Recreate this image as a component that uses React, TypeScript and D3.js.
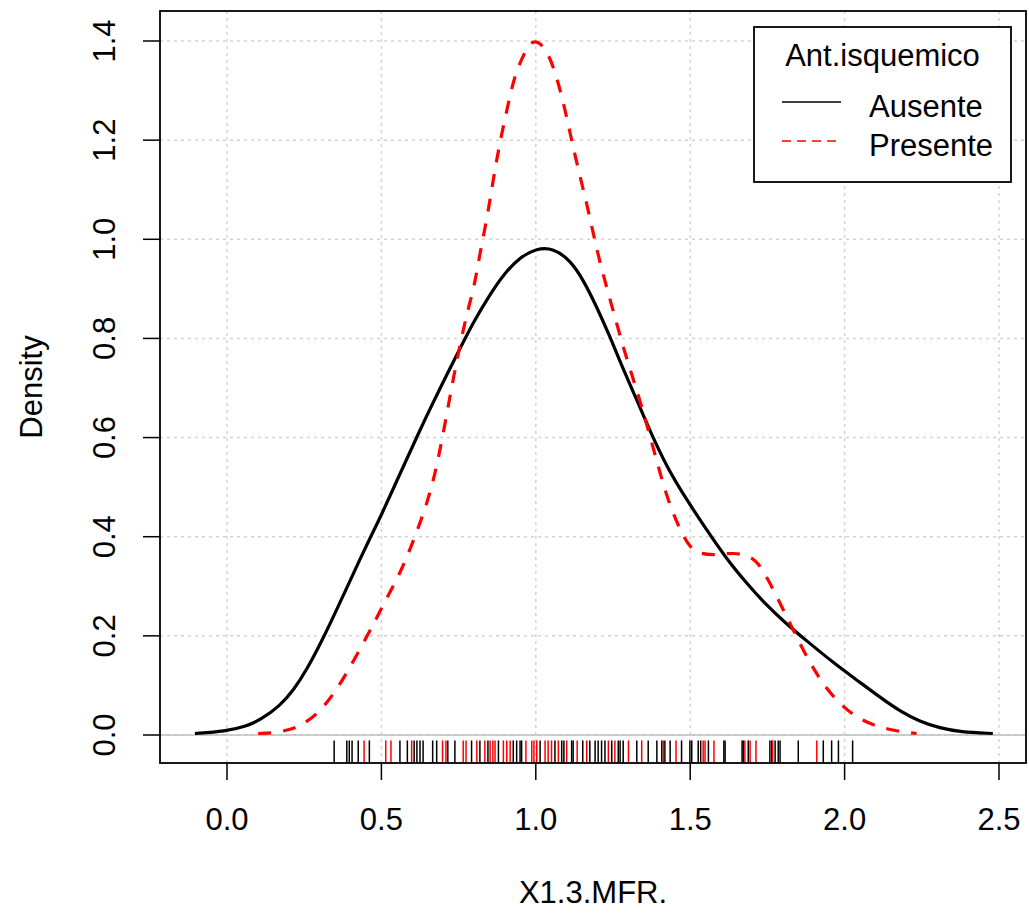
import React from 'react';
import * as d3 from 'd3';

// density curve for Ausente (black, solid)
const ausenteX = [-0.104, -0.006, 0.064, 0.107, 0.172, 0.215, 0.258, 0.312, 0.344, 0.388, 0.431, 0.469, 0.495, 0.55, 0.603, 0.636, 0.69, 0.755, 0.798, 0.852, 0.895, 0.949, 1.003, 1.057, 1.111, 1.154, 1.197, 1.24, 1.283, 1.327, 1.37, 1.424, 1.489, 1.553, 1.618, 1.683, 1.748, 1.812, 1.877, 1.963, 2.05, 2.115, 2.179, 2.244, 2.309, 2.374, 2.48];
const ausenteY = [0.003, 0.007, 0.018, 0.03, 0.059, 0.09, 0.131, 0.196, 0.238, 0.297, 0.355, 0.405, 0.437, 0.513, 0.585, 0.63, 0.7, 0.78, 0.833, 0.889, 0.929, 0.964, 0.982, 0.982, 0.958, 0.918, 0.864, 0.804, 0.738, 0.676, 0.613, 0.541, 0.474, 0.414, 0.355, 0.306, 0.261, 0.224, 0.19, 0.146, 0.106, 0.076, 0.048, 0.027, 0.014, 0.006, 0.003];

// density curve for Presente (red, dashed)
const presenteX = [0.101, 0.155, 0.204, 0.236, 0.29, 0.344, 0.388, 0.436, 0.479, 0.517, 0.56, 0.593, 0.625, 0.658, 0.684, 0.711, 0.733, 0.755, 0.776, 0.803, 0.819, 0.841, 0.857, 0.873, 0.89, 0.911, 0.933, 0.97, 0.995, 1.035, 1.068, 1.095, 1.116, 1.138, 1.165, 1.186, 1.208, 1.235, 1.262, 1.289, 1.316, 1.343, 1.37, 1.397, 1.424, 1.462, 1.499, 1.532, 1.586, 1.64, 1.69, 1.72, 1.753, 1.791, 1.829, 1.866, 1.9, 1.94, 1.99, 2.044, 2.136, 2.233];
const presenteY = [0.003, 0.004, 0.011, 0.018, 0.04, 0.081, 0.125, 0.179, 0.229, 0.276, 0.326, 0.375, 0.427, 0.488, 0.555, 0.645, 0.72, 0.788, 0.848, 0.911, 0.972, 1.039, 1.1, 1.16, 1.214, 1.274, 1.335, 1.385, 1.405, 1.385, 1.328, 1.261, 1.2, 1.14, 1.072, 1.012, 0.952, 0.891, 0.83, 0.77, 0.717, 0.663, 0.602, 0.541, 0.481, 0.42, 0.377, 0.365, 0.363, 0.368, 0.362, 0.348, 0.313, 0.266, 0.218, 0.171, 0.133, 0.094, 0.06, 0.032, 0.01, 0.003];

// rug observations
const ausenteRug = [0.347, 0.388, 0.396, 0.405, 0.425, 0.461, 0.56, 0.584, 0.606, 0.615, 0.625, 0.635, 0.666, 0.679, 0.715, 0.738, 0.792, 0.819, 0.845, 0.879, 0.927, 0.938, 0.949, 0.954, 1.014, 1.062, 1.084, 1.091, 1.116, 1.121, 1.152, 1.175, 1.192, 1.202, 1.213, 1.224, 1.246, 1.267, 1.273, 1.283, 1.327, 1.364, 1.392, 1.408, 1.418, 1.435, 1.472, 1.499, 1.505, 1.526, 1.534, 1.559, 1.609, 1.613, 1.668, 1.672, 1.688, 1.758, 1.764, 1.775, 1.785, 1.791, 1.85, 1.931, 1.958, 1.98, 2.026];
const presenteRug = [0.444, 0.514, 0.531, 0.598, 0.698, 0.709, 0.765, 0.774, 0.809, 0.835, 0.852, 0.861, 0.868, 0.895, 0.906, 0.917, 0.968, 0.987, 0.994, 1.003, 1.03, 1.04, 1.051, 1.073, 1.1, 1.134, 1.165, 1.235, 1.256, 1.3, 1.343, 1.413, 1.454, 1.542, 1.548, 1.577, 1.677, 1.694, 1.713, 1.767, 1.91];

const xTicks = [0, 0.5, 1, 1.5, 2, 2.5];
const yTicks = [0, 0.2, 0.4, 0.6, 0.8, 1.0, 1.2, 1.4];
const legendTitle = 'Ant.isquemico';
const legendLabels = ['Ausente', 'Presente'];

const W = 1029;
const H = 920;
const box = { left: 160, top: 11, right: 1026, bottom: 763 };
const font = '"Liberation Sans", Arial, sans-serif';
const fs = 31;

export default function App() {
  const x = d3.scaleLinear().domain([0, 2.5]).range([227, 999]);
  const y = d3.scaleLinear().domain([0, 1.4]).range([735, 41]);

  const line = d3.line<[number, number]>()
    .x(d => x(d[0]))
    .y(d => y(d[1]))
    .curve(d3.curveBasis);

  const ausente = line(ausenteX.map((v, i) => [v, ausenteY[i]] as [number, number])) || '';
  const presente = line(presenteX.map((v, i) => [v, presenteY[i]] as [number, number])) || '';

  const rugTop = box.bottom - 0.03 * (box.bottom - box.top);

  return (
    <svg width={W} height={H} style={{ position: 'absolute', left: 0, top: 0, background: '#fff' }}
      fontFamily={font} fontSize={fs}>
      {/* grid */}
      <g stroke="#d3d3d3" strokeWidth={1.5} strokeDasharray="3,4">
        {xTicks.map(t => (
          <line key={'gx' + t} x1={x(t)} x2={x(t)} y1={box.top} y2={box.bottom} />
        ))}
        {yTicks.map(t => (
          <line key={'gy' + t} x1={box.left} x2={box.right} y1={y(t)} y2={y(t)} />
        ))}
      </g>
      {/* zero line */}
      <line x1={box.left} x2={box.right} y1={y(0)} y2={y(0)} stroke="#bebebe" strokeWidth={1.5} />

      <path d={ausente} fill="none" stroke="#000" strokeWidth={3.2} />
      <path d={presente} fill="none" stroke="#ff0000" strokeWidth={3.2} strokeDasharray="13,12" />

      {/* rugs */}
      <g strokeWidth={1.5}>
        {ausenteRug.map((v, i) => (
          <line key={'ra' + i} x1={x(v)} x2={x(v)} y1={box.bottom} y2={rugTop} stroke="#000" />
        ))}
        {presenteRug.map((v, i) => (
          <line key={'rp' + i} x1={x(v)} x2={x(v)} y1={box.bottom} y2={rugTop} stroke="#ff0000" />
        ))}
      </g>

      {/* box */}
      <rect x={box.left} y={box.top} width={box.right - box.left} height={box.bottom - box.top}
        fill="none" stroke="#000" strokeWidth={1.8} />

      {/* x axis */}
      <g>
        {xTicks.map(t => (
          <g key={'xt' + t}>
            <line x1={x(t)} x2={x(t)} y1={box.bottom} y2={box.bottom + 17} stroke="#000" strokeWidth={1.5} />
            <text x={x(t)} y={830} textAnchor="middle">{d3.format('.1f')(t)}</text>
          </g>
        ))}
        <text x={(box.left + box.right) / 2} y={903} textAnchor="middle">X1.3.MFR.</text>
      </g>

      {/* y axis */}
      <g>
        {yTicks.map(t => (
          <g key={'yt' + t}>
            <line x1={box.left - 17} x2={box.left} y1={y(t)} y2={y(t)} stroke="#000" strokeWidth={1.5} />
            <text transform={`translate(115,${y(t)}) rotate(-90)`} textAnchor="middle">{d3.format('.1f')(t)}</text>
          </g>
        ))}
        <text transform={`translate(42,${(box.top + box.bottom) / 2}) rotate(-90)`} textAnchor="middle">Density</text>
      </g>

      {/* legend */}
      <g>
        <rect x={754} y={27} width={257} height={155} fill="#fff" stroke="#000" strokeWidth={1.8} />
        <text x={882.5} y={66} textAnchor="middle">{legendTitle}</text>
        <line x1={782} x2={841} y1={102} y2={102} stroke="#000" strokeWidth={1.6} />
        <line x1={782} x2={841} y1={141} y2={141} stroke="#ff0000" strokeWidth={1.6} strokeDasharray="9,6" />
        <text x={869} y={117}>{legendLabels[0]}</text>
        <text x={869} y={156}>{legendLabels[1]}</text>
      </g>
    </svg>
  );
}
